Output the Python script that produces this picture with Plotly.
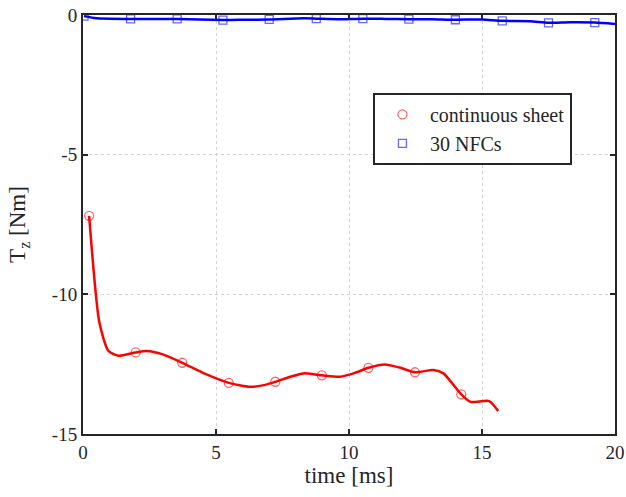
import plotly.graph_objects as go

# continuous sheet (red) line and markers
red_t = [0.23, 0.61, 0.95, 1.33, 1.98, 2.39, 3.0, 3.73, 4.6, 5.48, 6.28, 6.8, 7.23, 7.8,
         8.28, 8.98, 9.66, 10.2, 10.73, 11.35, 11.9, 12.48, 13.17, 13.55, 14.22, 14.57,
         15.27, 15.61]
red_tz = [-7.19, -10.98, -12.02, -12.2, -12.08, -12.03, -12.15, -12.45, -12.85, -13.17,
          -13.31, -13.25, -13.13, -12.95, -12.83, -12.9, -12.95, -12.82, -12.63, -12.51,
          -12.62, -12.79, -12.71, -12.83, -13.58, -13.85, -13.82, -14.18]
red_mark_t = [0.23, 1.98, 3.73, 5.48, 7.23, 8.98, 10.73, 12.48, 14.22]
red_mark_tz = [-7.19, -12.08, -12.45, -13.17, -13.13, -12.9, -12.63, -12.79, -13.58]

# 30 NFCs (blue) line and markers
blue_t = [0.04, 0.5, 1.79, 3.54, 5.26, 6.1, 7.0, 8.3, 8.77, 9.6, 10.52, 11.4, 12.25, 13.1,
          14.0, 15.0, 15.76, 16.8, 17.5, 18.3, 19.24, 20.0]
blue_tz = [-0.04, -0.12, -0.14, -0.14, -0.18, -0.17, -0.16, -0.12, -0.13, -0.15, -0.13,
           -0.14, -0.15, -0.15, -0.17, -0.16, -0.21, -0.22, -0.28, -0.26, -0.27, -0.32]
blue_mark_t = [0.04, 1.79, 3.54, 5.26, 7.0, 8.77, 10.52, 12.25, 14.0, 15.76, 17.5, 19.24]
blue_mark_tz = [-0.04, -0.14, -0.14, -0.18, -0.16, -0.13, -0.13, -0.15, -0.17, -0.21,
                -0.28, -0.27]

x_ticks = [0, 5, 10, 15, 20]
y_ticks = [-15, -10, -5, 0]

FONT = "Liberation Serif"

fig = go.Figure()
fig.add_trace(go.Scatter(x=red_t, y=red_tz, mode="lines", showlegend=False,
                         line=dict(color="#ff0000", width=2.5, shape="spline", smoothing=0.6),
                         hoverinfo="skip"))
fig.add_trace(go.Scatter(x=blue_t, y=blue_tz, mode="lines", showlegend=False,
                         line=dict(color="#0000ff", width=2.5, shape="spline", smoothing=0.6),
                         hoverinfo="skip"))
fig.add_trace(go.Scatter(x=red_mark_t, y=red_mark_tz, mode="markers", name="continuous sheet",
                         marker=dict(symbol="circle-open", size=9, color="rgba(255,0,0,0.6)",
                                     line=dict(width=1.3))))
fig.add_trace(go.Scatter(x=blue_mark_t, y=blue_mark_tz, mode="markers", name="30 NFCs",
                         marker=dict(symbol="square-open", size=8, color="rgba(0,0,255,0.6)",
                                     line=dict(width=1.3))))

axis_common = dict(
    showline=True, mirror="allticks", linecolor="#262626", linewidth=2,
    ticks="inside", ticklen=5, tickwidth=2, tickcolor="#262626",
    showgrid=True, gridcolor="#d4d4d4", griddash="dot", gridwidth=1,
    zeroline=False, automargin=False,
    tickfont=dict(family=FONT, size=19, color="#262626"),
)

fig.update_layout(
    width=626, height=497,
    margin=dict(l=83, r=11, t=15, b=63),
    paper_bgcolor="white", plot_bgcolor="white",
    font=dict(family=FONT, color="#262626", size=19),
    xaxis=dict(range=[0, 20], tickvals=x_ticks, ticktext=[str(v) for v in x_ticks],
               title=dict(text="time [ms]", font=dict(family=FONT, size=23), standoff=4),
               **axis_common),
    yaxis=dict(range=[-15, 0], tickvals=y_ticks, ticktext=[str(v) for v in y_ticks],
               title=dict(text="T<sub>z</sub> [Nm]", font=dict(family=FONT, size=23), standoff=20),
               **axis_common),
    legend=dict(x=0.545, y=0.814, xanchor="left", yanchor="top",
                bgcolor="white", bordercolor="#262626", borderwidth=2,
                font=dict(family=FONT, size=20, color="#262626"),
                tracegroupgap=0, itemwidth=45),
)

fig.write_html("out.html", config={"displayModeBar": False},
               post_script="document.body.style.margin='0';document.body.style.padding='0';")
